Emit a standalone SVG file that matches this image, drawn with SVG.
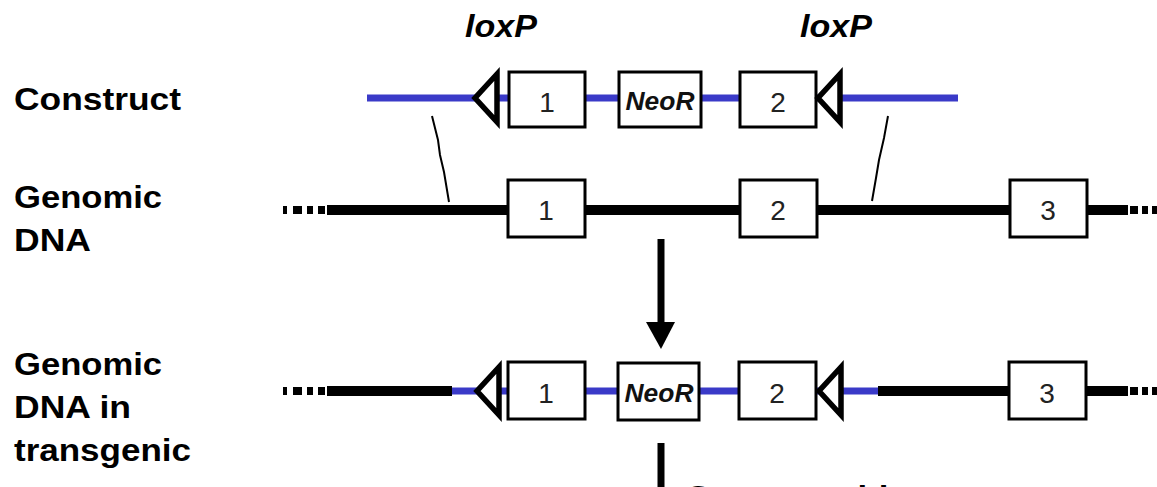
<svg xmlns="http://www.w3.org/2000/svg" width="1157" height="487" viewBox="0 0 1157 487">
  <style>
    .label { font-family: "Liberation Sans", Arial, sans-serif; font-weight: bold; font-size: 32px; fill: #000; }
    .lox { font-family: "Liberation Sans", Arial, sans-serif; font-weight: bold; font-style: italic; font-size: 31px; fill: #000; text-anchor: middle; }
    .num { font-family: "Liberation Sans", Arial, sans-serif; font-size: 28px; fill: #222; text-anchor: middle; }
    .neo { font-family: "Liberation Sans", Arial, sans-serif; font-weight: bold; font-style: italic; font-size: 26px; fill: #111; text-anchor: middle; }
    .exon { fill: #fff; stroke: #000; stroke-width: 3; }
    .site { fill: #fff; stroke: #000; stroke-width: 5.5; stroke-linejoin: miter; stroke-miterlimit: 10; }
    .dna { stroke: #000; stroke-width: 10; fill: none; }
    .vec { stroke: #3a3ac8; stroke-width: 7; fill: none; }
    .dots { stroke: #000; stroke-width: 8; fill: none; }
    .pair { stroke: #000; stroke-width: 2; fill: none; }
    .shaft { stroke: #000; stroke-width: 7; fill: none; }
  </style>
  <defs>
    <!-- loxP site: open triangle pointing left, origin on the vertical side -->
    <path id="loxp" d="M 0 -24 L -22 0 L 0 24 Z"/>
  </defs>

  <rect width="1157" height="487" fill="#fff"/>

  <!-- row labels -->
  <g id="label-construct"><text class="label" x="14" y="110" textLength="167" lengthAdjust="spacingAndGlyphs">Construct</text></g>
  <g id="label-genomic">
    <text class="label" x="14" y="208" textLength="148" lengthAdjust="spacingAndGlyphs">Genomic</text>
    <text class="label" x="14" y="251" textLength="77" lengthAdjust="spacingAndGlyphs">DNA</text>
  </g>
  <g id="label-transgenic">
    <text class="label" x="14" y="375" textLength="148" lengthAdjust="spacingAndGlyphs">Genomic</text>
    <text class="label" x="14" y="418" textLength="117" lengthAdjust="spacingAndGlyphs">DNA in</text>
    <text class="label" x="14" y="461" textLength="177" lengthAdjust="spacingAndGlyphs">transgenic</text>
  </g>

  <g id="label-loxp">
    <text class="lox" x="501" y="37" textLength="72" lengthAdjust="spacingAndGlyphs">loxP</text>
    <text class="lox" x="836" y="37" textLength="72" lengthAdjust="spacingAndGlyphs">loxP</text>
  </g>

  <!-- backbones, homology lines and arrows -->
  <g id="connectors">
    <!-- construct vector -->
    <line class="vec" x1="367" y1="98" x2="958" y2="98"/>
    <!-- genomic locus -->
    <line class="dna" x1="327" y1="210" x2="1128" y2="210"/>
    <line class="dots" x1="283" y1="210" x2="327" y2="210" stroke-dasharray="4 6 9 5 6 5 7 2"/>
    <line class="dots" x1="1130" y1="210" x2="1157" y2="210" stroke-dasharray="8 4 6 4 6"/>
    <!-- targeted locus -->
    <line class="dna" x1="327" y1="391" x2="452" y2="391"/>
    <line class="vec" x1="452" y1="391" x2="878" y2="391"/>
    <line class="dna" x1="878" y1="391" x2="1128" y2="391"/>
    <line class="dots" x1="283" y1="391" x2="327" y2="391" stroke-dasharray="4 6 9 5 6 5 7 2"/>
    <line class="dots" x1="1130" y1="391" x2="1157" y2="391" stroke-dasharray="8 4 6 4 6"/>
    <!-- homology arms -->
    <polyline class="pair" points="432,116 438,140 440,155 444,172 449,202"/>
    <polyline class="pair" points="888,116 884,138 879,160 876,178 872,201"/>
    <!-- recombination step -->
    <line class="shaft" x1="661" y1="239" x2="661" y2="324"/>
    <polygon points="646,322 675,322 661,349" fill="#000"/>
    <line class="shaft" x1="661" y1="443" x2="661" y2="495"/>
  </g>

  <!-- construct row -->
  <g id="construct-lox1"><use href="#loxp" class="site" transform="translate(497,98)"/></g>
  <g id="construct-exon1"><rect class="exon" x="509" y="72" width="76" height="55"/><text class="num" x="547" y="112">1</text></g>
  <g id="construct-neor"><rect class="exon" x="619" y="72" width="82" height="55"/><text class="neo" x="660" y="110" textLength="69" lengthAdjust="spacingAndGlyphs">NeoR</text></g>
  <g id="construct-exon2"><rect class="exon" x="740" y="72" width="76" height="55"/><text class="num" x="778" y="112">2</text></g>
  <g id="construct-lox2"><use href="#loxp" class="site" transform="translate(840,98)"/></g>

  <!-- genomic row -->
  <g id="genomic-exon1"><rect class="exon" x="508" y="180" width="77" height="57"/><text class="num" x="546" y="220">1</text></g>
  <g id="genomic-exon2"><rect class="exon" x="740" y="180" width="77" height="57"/><text class="num" x="778" y="220">2</text></g>
  <g id="genomic-exon3"><rect class="exon" x="1010" y="180" width="77" height="57"/><text class="num" x="1048" y="220">3</text></g>

  <!-- targeted row -->
  <g id="transgenic-lox1"><use href="#loxp" class="site" transform="translate(499,391)"/></g>
  <g id="transgenic-exon1"><rect class="exon" x="508" y="362" width="77" height="57"/><text class="num" x="546" y="403">1</text></g>
  <g id="transgenic-neor"><rect class="exon" x="618" y="363" width="81" height="57"/><text class="neo" x="659" y="402" textLength="69" lengthAdjust="spacingAndGlyphs">NeoR</text></g>
  <g id="transgenic-exon2"><rect class="exon" x="739" y="362" width="77" height="57"/><text class="num" x="777" y="403">2</text></g>
  <g id="transgenic-lox2"><use href="#loxp" class="site" transform="translate(841,391)"/></g>
  <g id="transgenic-exon3"><rect class="exon" x="1009" y="362" width="77" height="57"/><text class="num" x="1047" y="403">3</text></g>

  <!-- step label below the fold -->
  <g id="label-cre"><text class="label" x="685" y="508" textLength="283" lengthAdjust="spacingAndGlyphs">Cre recombinase</text></g>
</svg>
